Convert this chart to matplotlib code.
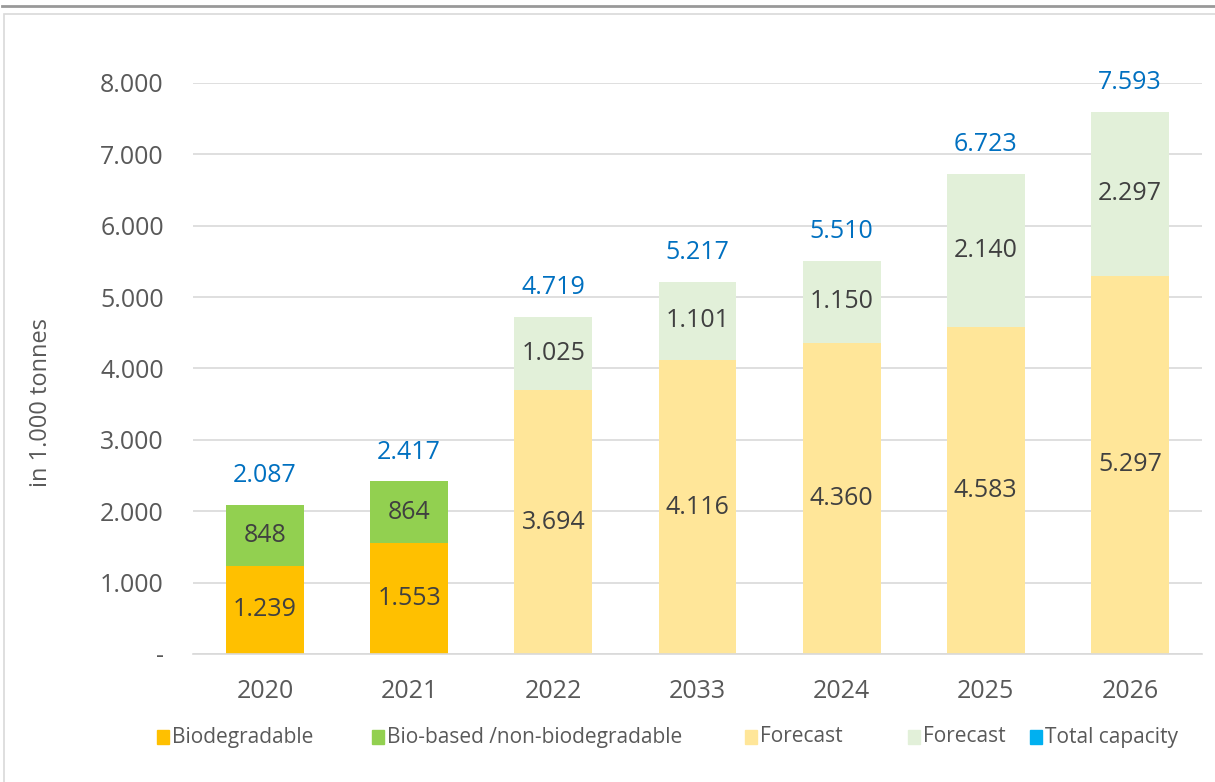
from matplotlib import pyplot as plt
from matplotlib.patches import Rectangle
from matplotlib.lines import Line2D
import numpy as np

years = ['2020', '2021', '2022', '2033', '2024', '2025', '2026']
biodegradable = [1239, 1553, 0, 0, 0, 0, 0]
bio_based = [848, 864, 0, 0, 0, 0, 0]
forecast_bio = [0, 0, 3694, 4116, 4360, 4583, 5297]
forecast_based = [0, 0, 1025, 1101, 1150, 2140, 2297]
total_capacity = [2087, 2417, 4719, 5217, 5510, 6723, 7593]

legend_labels = ['Biodegradable', 'Bio-based /non-biodegradable', 'Forecast', 'Forecast', 'Total capacity']
legend_colors = ['#FFC000', '#92D050', '#FFE699', '#E2F0D9', '#00B0F0']

plt.rcParams['font.family'] = ['Open Sans', 'DejaVu Sans']


def fmt(v):
    return '{:,}'.format(v).replace(',', '.')


fig = plt.figure(figsize=(12.15, 7.82), dpi=100)
ax = fig.add_axes([0.1588, 0.1637, 0.8305, 0.7302])

x = np.arange(len(years))
w = 0.54
b1 = np.array(biodegradable)
b2 = np.array(bio_based)
f1 = np.array(forecast_bio)
f2 = np.array(forecast_based)

ax.bar(x, b1, w, color=legend_colors[0], zorder=2)
ax.bar(x, b2, w, bottom=b1, color=legend_colors[1], zorder=2)
ax.bar(x, f1, w, color=legend_colors[2], zorder=2)
ax.bar(x, f2, w, bottom=f1, color=legend_colors[3], zorder=2)

# segment labels
for i in range(len(years)):
    for bottom, val in [(0, b1[i]), (b1[i], b2[i]), (0, f1[i]), (f1[i], f2[i])]:
        if val > 0:
            ax.text(x[i], bottom + val / 2, fmt(int(val)), ha='center', va='center',
                    fontsize=18, color='#404040', zorder=3)
    top = b1[i] + b2[i] + f1[i] + f2[i]
    ax.annotate(fmt(total_capacity[i]), (x[i], top), xytext=(0, 21),
                textcoords='offset points', ha='center', va='center',
                fontsize=18, color='#0070C0', annotation_clip=False)

ax.set_xlim(-0.5, len(years) - 0.5)
ax.set_ylim(0, 8000)
ax.set_yticks(np.arange(0, 8001, 1000))
ax.set_yticklabels(['-'] + [fmt(v) for v in range(1000, 8001, 1000)])
ax.set_xticks(x)
ax.set_xticklabels(years)
ax.tick_params(axis='both', length=0, labelsize=18, colors='#595959')
ax.tick_params(axis='y', pad=21)
ax.tick_params(axis='x', pad=18)
ax.grid(axis='y', color='#D9D9D9', linewidth=1.2, zorder=0)
for s in ['top', 'right', 'left']:
    ax.spines[s].set_visible(False)
ax.spines['bottom'].set_color('#D9D9D9')
ax.spines['bottom'].set_linewidth(1.2)
ax.set_ylabel('in 1.000 tonnes', fontsize=17, color='#595959')
ax.yaxis.set_label_coords(-0.1388, 0.44)

# legend drawn by hand to keep the original spacing
legend_x = [157, 372, 745, 908, 1030]
ly = 1 - 737 / 782
for lx, lab, col in zip(legend_x, legend_labels, legend_colors):
    fig.patches.append(Rectangle((lx / 1215, ly - 7 / 782), 12 / 1215, 14 / 782,
                                 transform=fig.transFigure, color=col))
    fig.text((lx + 15) / 1215, ly, lab, fontsize=15, color='#595959', va='center', ha='left')

# frame
fig.lines.append(Line2D([2 / 1215, 1], [1 - 5.5 / 782] * 2, transform=fig.transFigure,
                        color='#999999', linewidth=2))
fig.patches.append(Rectangle((3.5 / 1215, -0.01), 1.1, 1 - 14 / 782 + 0.01, transform=fig.transFigure,
                             fill=False, edgecolor='#D9D9D9', linewidth=1.2))

plt.savefig('out.png', dpi=100)
